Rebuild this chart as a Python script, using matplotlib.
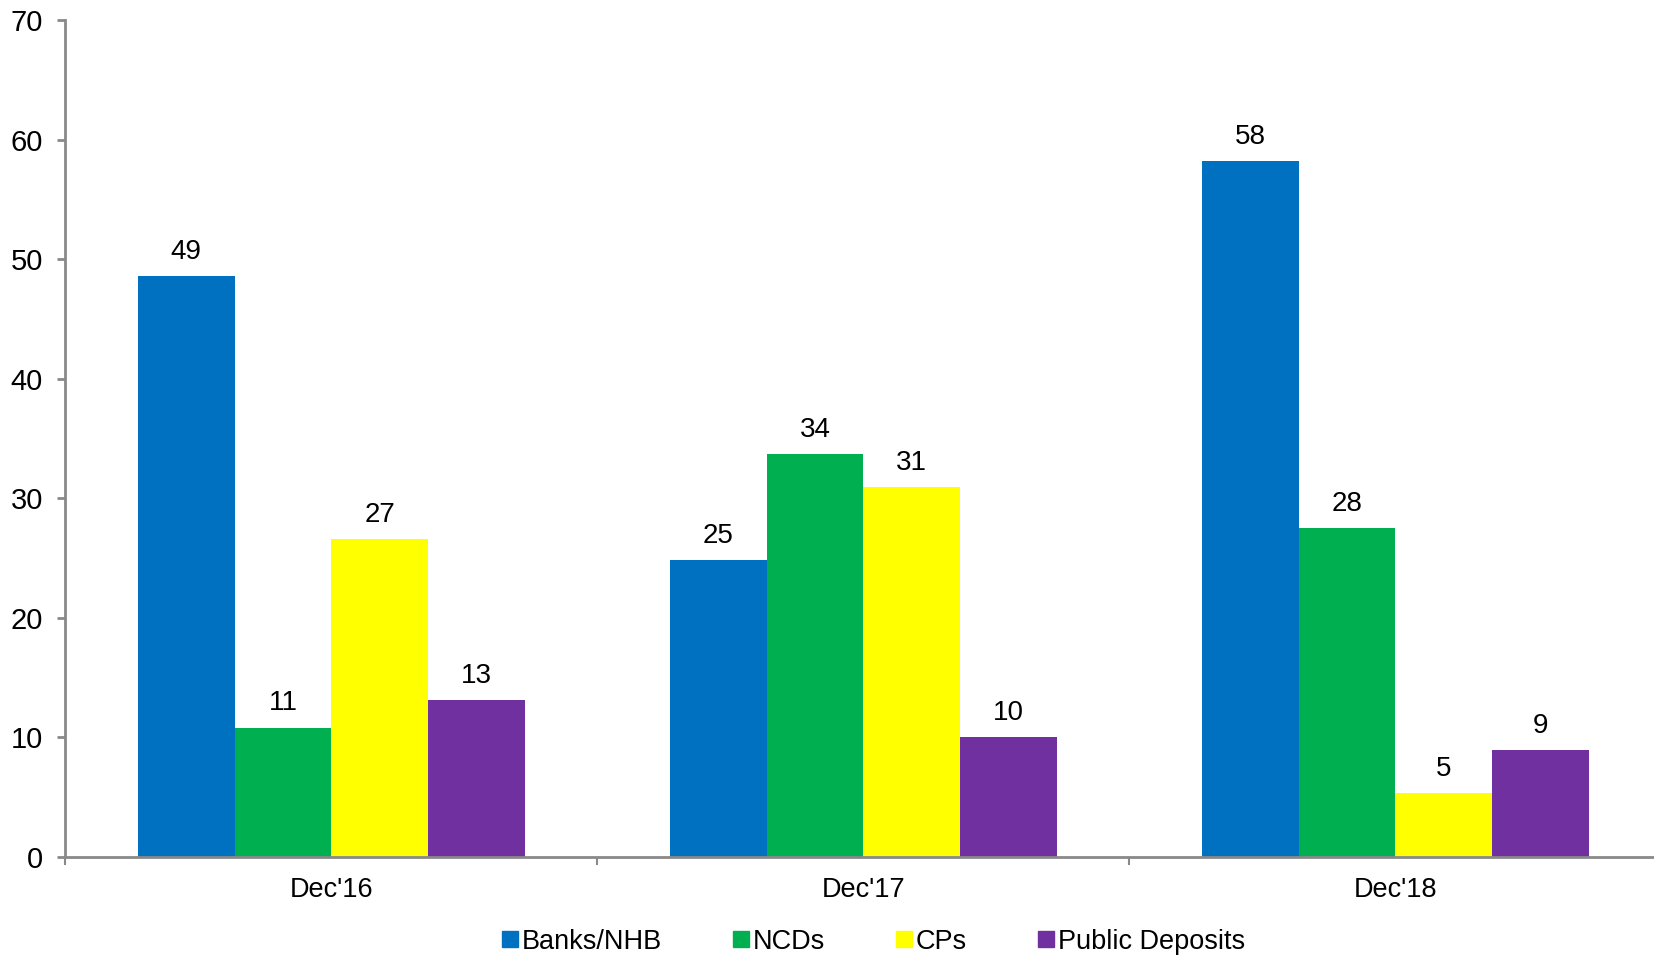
"""
Funding mix by source, Dec'16 to Dec'18 (grouped bar chart)
"""

import numpy as np
from matplotlib import pyplot as plt
from matplotlib.lines import Line2D

periods = ["Dec'16", "Dec'17", "Dec'18"]
series = ['Banks/NHB', 'NCDs', 'CPs', 'Public Deposits']
banks_nhb = [48.6, 24.8, 58.2]
ncds = [10.8, 33.7, 27.5]
cps = [26.6, 30.9, 5.3]
public_deposits = [13.1, 10.0, 8.9]
colors = ['#0070C0', '#00B050', '#FFFF00', '#7030A0']

if __name__ == '__main__':
    plt.rcParams['font.family'] = ['Liberation Sans', 'DejaVu Sans']

    fig = plt.figure(figsize=(16.54, 9.58), dpi=100)
    ax = fig.add_axes([0.0395, 0.1058, 0.9605, 0.8732])

    values = [banks_nhb, ncds, cps, public_deposits]
    width = 0.182
    x = np.arange(len(periods)) + 0.5
    for i, (name, vals, col) in enumerate(zip(series, values, colors)):
        pos = x + (i - 1.5) * width
        bars = ax.bar(pos, vals, width, color=col, label=name, zorder=2)
        for b, v in zip(bars, vals):
            ax.annotate('{:.0f}'.format(v), (b.get_x() + b.get_width() / 2, v),
                        xytext=(0, 8), textcoords='offset points',
                        ha='center', va='bottom', fontsize=20)

    # Axes styling
    ax.set_xlim(0, 2.986)
    ax.set_ylim(0, 70)
    ax.set_yticks(range(0, 71, 10))
    ax.set_xticks(x)
    ax.set_xticklabels(periods, fontsize=19.5)
    ax.set_xticks([0, 1, 2], minor=True)
    for s in ['top', 'right']:
        ax.spines[s].set_visible(False)
    for s in ['left', 'bottom']:
        ax.spines[s].set_color('#898989')
        ax.spines[s].set_linewidth(2)
    ax.tick_params(axis='y', labelsize=21, color='#898989', width=2, length=6, pad=10)
    ax.tick_params(axis='x', which='major', length=0, pad=15)
    ax.tick_params(axis='x', which='minor', color='#898989', width=1.5, length=6)

    # Legend with small square markers
    handles = [Line2D([], [], marker='s', linestyle='', markersize=11,
                      color=c) for c in colors]
    fig.legend(handles, series, loc='center', bbox_to_anchor=(0.528, 0.017),
               ncol=4, frameon=False, fontsize=19.5, handlelength=0.6,
               handletextpad=0.15, columnspacing=2.6)

    plt.savefig('out.png')
